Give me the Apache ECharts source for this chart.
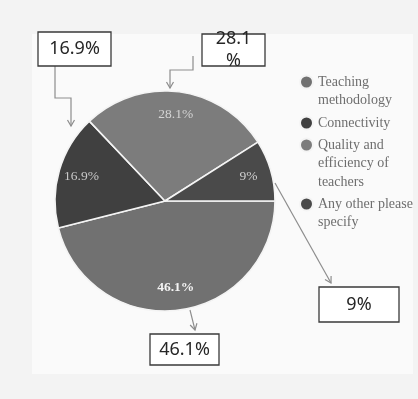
<!DOCTYPE html>
<html>
<head>
<meta charset="utf-8">
<script src="https://cdn.jsdelivr.net/npm/echarts@6/dist/echarts.min.js"></script>
<style>
  html, body { margin: 0; padding: 0; background: #f3f3f3; }
  #chart { width: 418px; height: 399px; }
</style>
</head>
<body>
<div id="chart"></div>
<script>
// Survey shares by category
const categories = ['Teaching methodology', 'Connectivity', 'Quality and efficiency of teachers', 'Any other please specify'];
const shares = [46.1, 16.9, 28.1, 9];
const legendLabels = ['Teaching\nmethodology', 'Connectivity', 'Quality and\nefficiency of\nteachers', 'Any other please\nspecify'];
const sliceColors = ['#717171', '#404040', '#7c7c7c', '#4a4a4a'];

const chart = echarts.init(document.getElementById('chart'), null, { renderer: 'canvas' });

const CENTER = [165, 201];
const R = 110;
const LINE_H = 18.5;

// One legend block per category; blank lines above the label keep the
// marker level with the first text line (legend text is centred on the marker)
const legendFirstLineY = [82, 123, 145, 204];
const legends = categories.map((name, i) => {
  const lines = legendLabels[i].split('\n').length;
  return {
    orient: 'vertical',
    left: 299,
    top: legendFirstLineY[i] - LINE_H * (lines - 1) - LINE_H / 2,
    padding: 0,
    icon: 'circle',
    itemWidth: 13,
    itemHeight: 13,
    selectedMode: false,
    data: [{ name: name }],
    formatter: () => '\n'.repeat(lines - 1) + legendLabels[i],
    textStyle: {
      fontFamily: 'Liberation Serif',
      fontSize: 14,
      color: '#6e6e6e',
      lineHeight: LINE_H
    }
  };
});

const innerLabelColors = ['#f4f4f4', '#c9c9c9', '#d4d4d4', '#d0d0d0'];

// Callout boxes, each tied to a category index
const callouts = [
  { idx: 1, x: 38, y: 32, w: 73, h: 34 },
  { idx: 2, x: 202, y: 34, w: 63, h: 32 },
  { idx: 3, x: 319, y: 287, w: 80, h: 35 },
  { idx: 0, x: 150, y: 334, w: 69, h: 31 }
];
// Leader arrows from each box toward its slice
const arrowPaths = [
  [[55, 66], [55, 98], [71, 98], [71, 126]],
  [[193, 56], [193, 70], [170, 70], [170, 88]],
  [[275, 183], [331, 283]],
  [[190, 310], [195, 330]]
];

function arrowHead(path) {
  const [x1, y1] = path[path.length - 2];
  const [x2, y2] = path[path.length - 1];
  const a = Math.atan2(y2 - y1, x2 - x1);
  const len = 7, spread = Math.PI / 6;
  return [
    [x2 - len * Math.cos(a - spread), y2 - len * Math.sin(a - spread)],
    [x2, y2],
    [x2 - len * Math.cos(a + spread), y2 - len * Math.sin(a + spread)]
  ];
}

const graphics = [
  {
    type: 'rect', silent: true, z: -10,
    shape: { x: 32, y: 34, width: 381, height: 340 },
    style: { fill: '#fafafa' }
  }
];
arrowPaths.forEach(p => {
  graphics.push({
    type: 'polyline', silent: true, z: 100,
    shape: { points: p },
    style: { stroke: '#8d8d8d', lineWidth: 1.2, fill: null }
  });
  graphics.push({
    type: 'polyline', silent: true, z: 100,
    shape: { points: arrowHead(p) },
    style: { stroke: '#8d8d8d', lineWidth: 1.2, fill: null }
  });
});
callouts.forEach(c => {
  graphics.push({
    type: 'rect', silent: true, z: 100,
    shape: { x: c.x, y: c.y, width: c.w, height: c.h },
    style: { fill: '#ffffff', stroke: '#3a3a3a', lineWidth: 1.3 }
  });
  graphics.push({
    type: 'text', silent: true, z: 101,
    x: c.x + c.w / 2, y: c.y + c.h / 2,
    style: {
      text: shares[c.idx] + '%',
      fill: '#262626',
      font: '18px "Noto Sans"',
      align: 'center',
      verticalAlign: 'middle',
      width: c.w - 16,
      overflow: 'breakAll',
      lineHeight: 22
    }
  });
});

const pieData = categories.map((name, i) => ({
  name: name,
  value: shares[i],
  itemStyle: { color: sliceColors[i] }
}));

chart.setOption({
  backgroundColor: '#f3f3f3',
  animation: false,
  legend: legends,
  series: [
    {
      type: 'pie',
      center: CENTER,
      radius: R,
      startAngle: 0,
      clockwise: true,
      avoidLabelOverlap: false,
      silent: true,
      label: { show: false },
      labelLine: { show: false },
      itemStyle: { borderColor: '#f4f4f4', borderWidth: 1.6 },
      data: pieData
    },
    {
      // transparent ring that carries the percentage labels further out
      type: 'pie',
      center: CENTER,
      radius: [58, R],
      startAngle: 0,
      clockwise: true,
      avoidLabelOverlap: false,
      silent: true,
      z: 3,
      itemStyle: { color: 'transparent', borderWidth: 0 },
      labelLine: { show: false },
      data: categories.map((name, i) => ({
        name: name,
        value: shares[i],
        label: {
          show: true,
          position: 'inside',
          formatter: '{c}%',
          fontFamily: 'Liberation Serif',
          fontSize: 13.5,
          fontWeight: i === 0 ? 'bold' : 'normal',
          color: innerLabelColors[i]
        }
      }))
    }
  ],
  graphic: graphics
});
</script>
</body>
</html>
